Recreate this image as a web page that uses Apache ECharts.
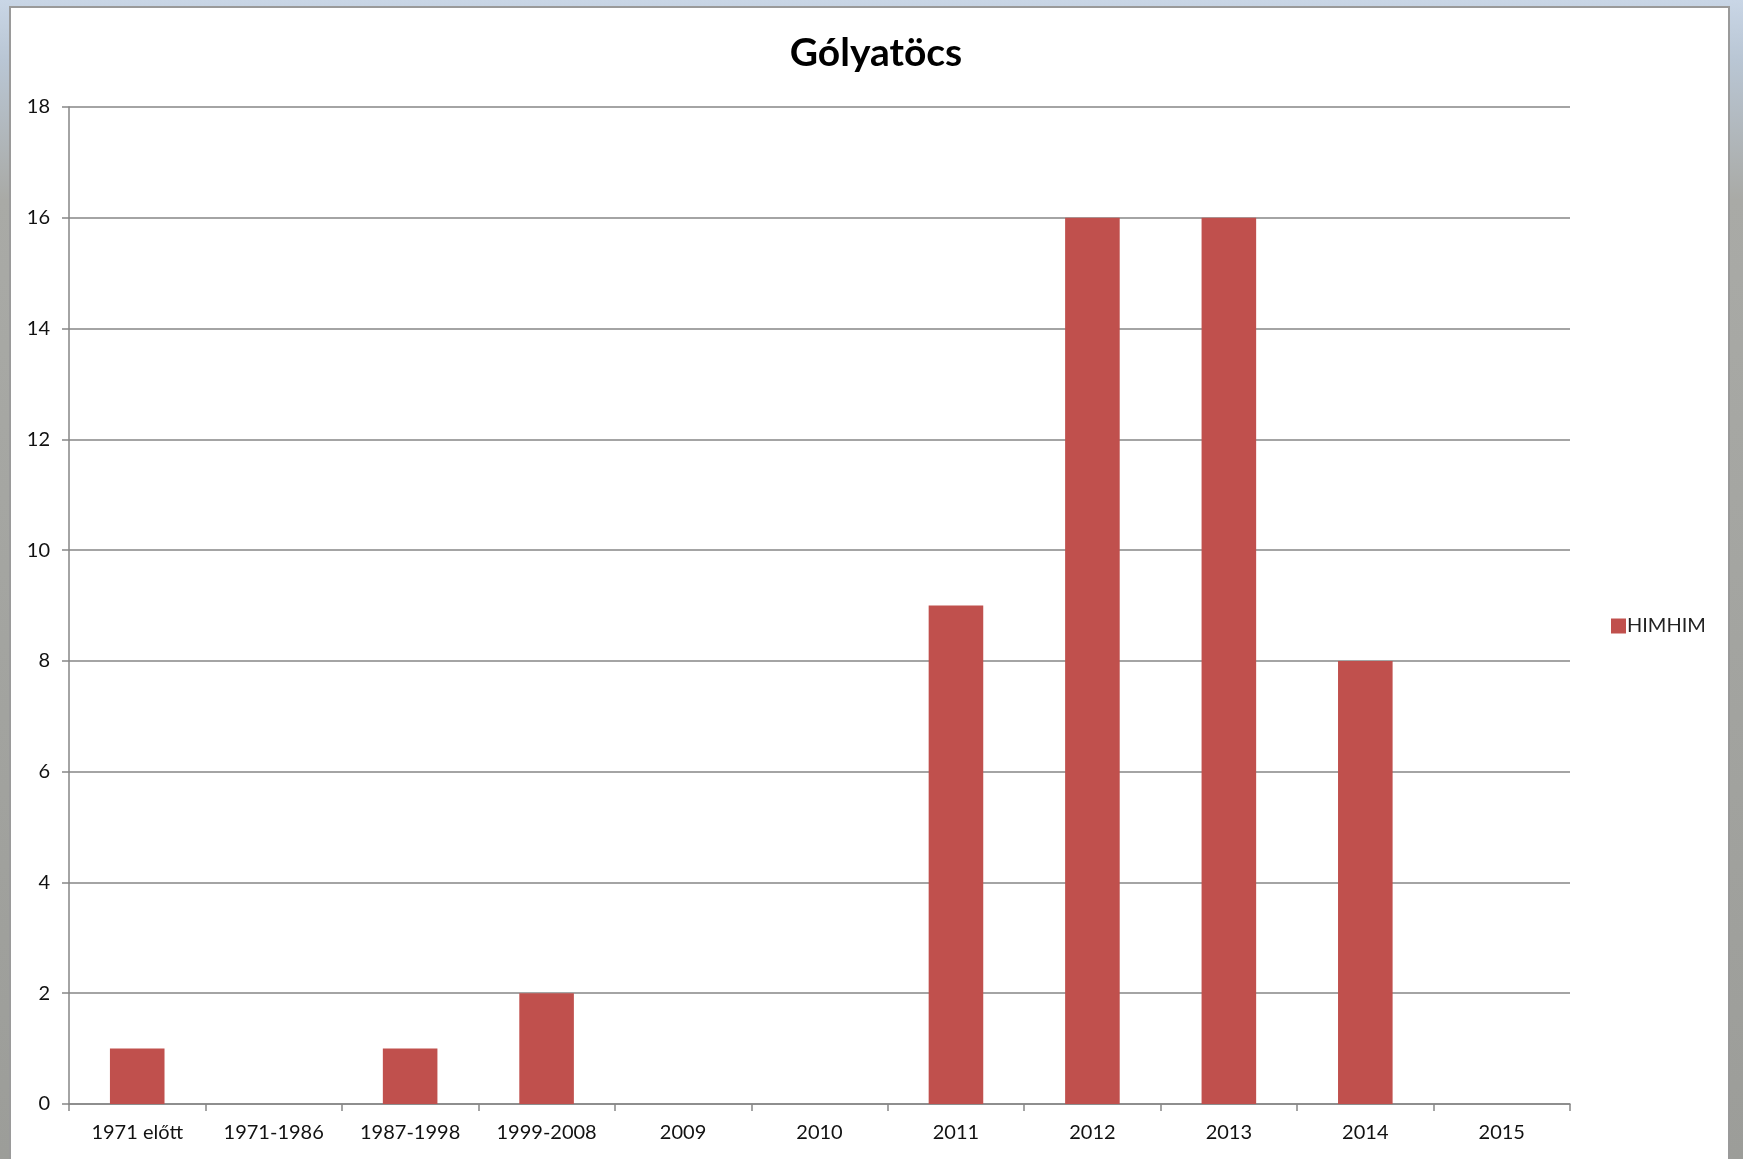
<!DOCTYPE html>
<html>
<head>
<meta charset="utf-8">
<script src="https://cdn.jsdelivr.net/npm/echarts@6/dist/echarts.min.js"></script>
<style>
html,body{margin:0;padding:0;width:1743px;height:1159px;overflow:hidden;}
body{background:linear-gradient(180deg,#c9d6e6 0px,#b9c6d4 60px,#a9aaa6 200px,#9c9d99 1159px);}
#panel{position:absolute;left:9px;top:6px;width:1721px;height:1160px;background:#fff;border:2px solid #9a9a9a;box-sizing:border-box;}
#chart{position:absolute;left:0;top:0;width:1743px;height:1159px;}
</style>
</head>
<body>
<div id="panel"></div>
<div id="chart"></div>
<script>
const categories = ['1971 előtt','1971-1986','1987-1998','1999-2008','2009','2010','2011','2012','2013','2014','2015'];
const himhimValues = [1, 0, 1, 2, 0, 0, 9, 16, 16, 8, 0];
const seriesName = 'HIMHIM';
const chartTitle = 'Gólyatöcs';

const chart = echarts.init(document.getElementById('chart'), null, {renderer:'canvas'});
const font = 'Lato, "Open Sans", sans-serif';
chart.setOption({
  backgroundColor: 'transparent',
  animation: false,
  title: {
    text: chartTitle,
    left: 871, top: 29, textAlign: 'center',
    textStyle: {fontFamily: font, fontSize: 39, fontWeight: 'bold', color: '#000'}
  },
  legend: {
    data: [seriesName],
    left: 1606, top: 611,
    orient: 'vertical',
    itemWidth: 15, itemHeight: 15, itemGap: 4,
    icon: 'rect',
    textStyle: {fontFamily: font, fontSize: 20, color: '#222', padding: [0,0,0,-4]}
  },
  grid: {left: 69, right: 173, top: 107, bottom: 55, containLabel: false},
  xAxis: {
    type: 'category',
    data: categories,
    boundaryGap: true,
    axisLine: {lineStyle: {color: '#868686', width: 1.5}},
    axisTick: {show: true, alignWithLabel: false, length: 7, lineStyle: {color: '#868686', width: 1.5}},
    axisLabel: {fontFamily: font, fontSize: 20, color: '#111', margin: 19, interval: 0}
  },
  yAxis: {
    type: 'value',
    min: 0, max: 18, interval: 2,
    axisLine: {show: true, lineStyle: {color: '#868686', width: 1.5}},
    axisTick: {show: true, length: 7, lineStyle: {color: '#868686', width: 1.5}},
    axisLabel: {fontFamily: font, fontSize: 20, color: '#111', margin: 19},
    splitLine: {show: true, lineStyle: {color: '#868686', width: 1.5}}
  },
  series: [{
    name: seriesName,
    type: 'bar',
    data: himhimValues,
    barCategoryGap: '60%',
    itemStyle: {color: '#C0504D'}
  }]
});
</script>
</body>
</html>
